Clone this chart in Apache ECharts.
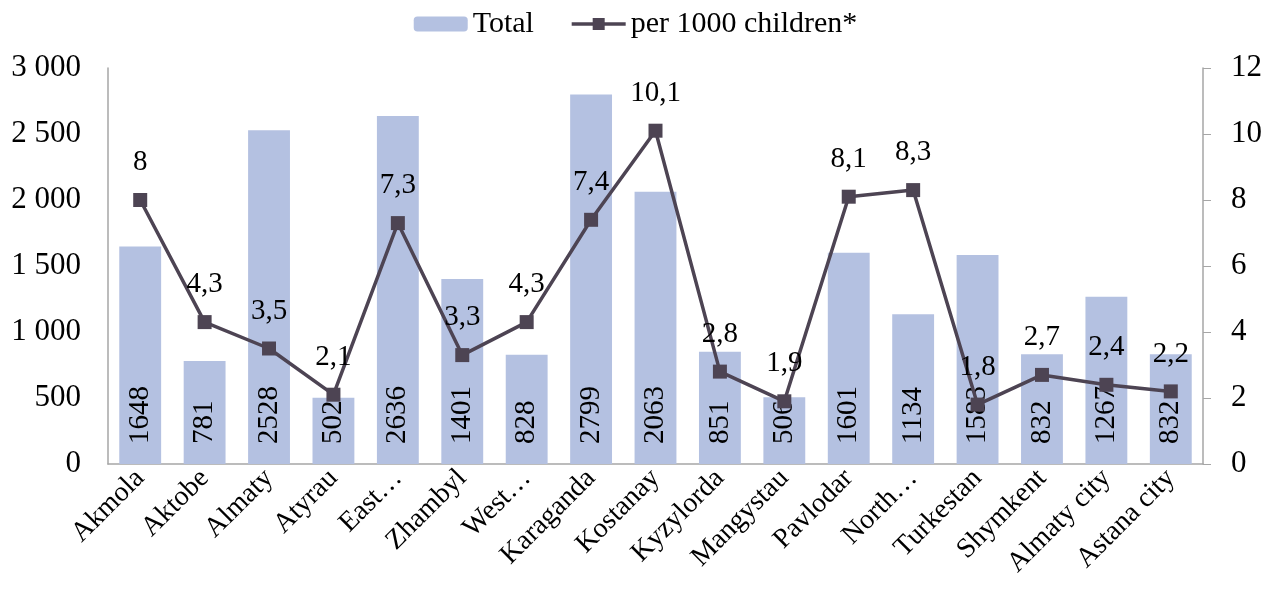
<!DOCTYPE html>
<html><head><meta charset="utf-8">
<script src="https://cdn.jsdelivr.net/npm/echarts@6/dist/echarts.min.js"></script>
<style>html,body{margin:0;padding:0;background:#fff}#c{width:1271px;height:612px}</style>
</head><body><div id="c"></div>
<script>
const categories = ['Akmola','Aktobe','Almaty','Atyrau','East…','Zhambyl','West…','Karaganda','Kostanay','Kyzylorda','Mangystau','Pavlodar','North…','Turkestan','Shymkent','Almaty city','Astana city'];
const totalValues = [1648,781,2528,502,2636,1401,828,2799,2063,851,506,1601,1134,1583,832,1267,832];
const perThousand = [8,4.3,3.5,2.1,7.3,3.3,4.3,7.4,10.1,2.8,1.9,8.1,8.3,1.8,2.7,2.4,2.2];
const leftTicks = {min:0,max:3000,interval:500};
const rightTicks = {min:0,max:12,interval:2};

const font = 'Liberation Serif, Times New Roman, serif';
const chart = echarts.init(document.getElementById('c'));
chart.setOption({
  animation:false,
  textStyle:{fontFamily:font},
  legend:{top:4,left:'center',itemGap:36,itemWidth:54,itemHeight:15,
    textStyle:{fontFamily:font,fontSize:30,color:'#000'},
    data:['Total',{name:'per 1000 children*',itemStyle:{color:'#4d4453'},lineStyle:{width:3.5,color:'#4d4453'}}]},
  grid:{left:108,right:68,top:68,bottom:148},
  xAxis:{type:'category',data:categories,
    axisLine:{lineStyle:{color:'#a6a6a6',width:1.5}},
    axisTick:{show:false},
    axisLabel:{rotate:45,interval:0,fontSize:28,color:'#000',fontFamily:font,margin:10}},
  yAxis:[
    {type:'value',min:leftTicks.min,max:leftTicks.max,interval:leftTicks.interval,
      splitLine:{show:false},axisTick:{show:false},
      axisLine:{show:true,lineStyle:{color:'#a6a6a6',width:1.5}},
      axisLabel:{fontSize:31,color:'#000',fontFamily:font,margin:27,
        formatter:v=>String(v).replace(/\B(?=(\d{3})+(?!\d))/g,' ')}},
    {type:'value',min:rightTicks.min,max:rightTicks.max,interval:rightTicks.interval,
      splitLine:{show:false},
      axisTick:{show:true,length:8,lineStyle:{color:'#a6a6a6'}},
      axisLine:{show:true,lineStyle:{color:'#a6a6a6',width:1.5}},
      axisLabel:{fontSize:31,color:'#000',fontFamily:font,margin:28}}
  ],
  series:[
    {name:'Total',type:'bar',data:totalValues,barCategoryGap:'35%',
      itemStyle:{color:'#b4c1e1'},
      label:{show:true,position:'insideBottom',rotate:90,align:'left',verticalAlign:'middle',
        distance:20,fontSize:29,color:'#000',fontFamily:font}},
    {name:'per 1000 children*',type:'line',yAxisIndex:1,data:perThousand,
      symbol:'rect',symbolSize:14,
      lineStyle:{color:'#4d4453',width:3.5},itemStyle:{color:'#4d4453'},
      label:{show:true,position:'top',distance:16,fontSize:29,color:'#000',fontFamily:font,
        formatter:p=>String(p.value).replace('.',',')}}
  ]
});
</script></body></html>
